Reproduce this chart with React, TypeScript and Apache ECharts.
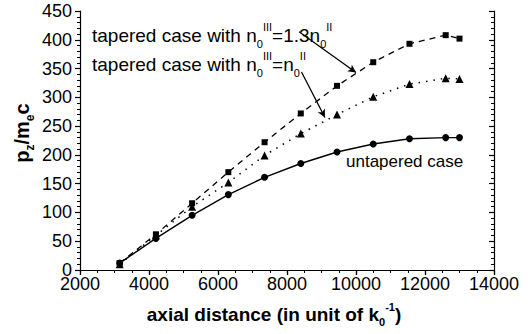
import React, { useEffect, useRef } from "react";
import * as echarts from "echarts";

// Data
const axialDistance = [3150, 4200, 5250, 6300, 7350, 8400, 9450, 10500, 11550, 12600, 13000];
const untapered = [12, 55, 95, 131, 161, 185, 205, 219, 228, 230, 230];
const taperedHigh = [12, 62, 116, 170, 222, 272, 320, 361, 393, 408, 402];
const taperedEqual = [10, 60, 110, 152, 199, 237, 270, 301, 323, 333, 332];

const xMin = 2000;
const xMax = 14000;
const xInterval = 2000;
const yMin = 0;
const yMax = 450;
const yInterval = 50;

const FONT = "Liberation Sans, Arial, sans-serif";

function pairs(xs: number[], ys: number[]) {
  return xs.map((x, i) => [x, ys[i]]);
}

export default function App() {
  const ref = useRef<HTMLDivElement>(null);

  useEffect(() => {
    if (!ref.current) return;
    const chart = echarts.init(ref.current, undefined, { renderer: "svg" });

    const axisLine = { show: true, lineStyle: { color: "#000", width: 1.2 } };

    const subSup = (size: number, bold: boolean, lh: number) => ({
      m: { fontSize: size, fontFamily: FONT, fontWeight: bold ? "bold" : "normal", color: "#000", lineHeight: lh, verticalAlign: "middle" },
      sub: { fontSize: Math.round(size * 0.58), fontFamily: FONT, fontWeight: bold ? "bold" : "normal", color: "#000", lineHeight: 12, verticalAlign: "bottom" },
      sup: { fontSize: Math.round(size * 0.58), fontFamily: FONT, fontWeight: bold ? "bold" : "normal", color: "#000", lineHeight: 12, verticalAlign: "top" },
    });

    const plain = (v: number) => String(v);

    const option: any = {
      animation: false,
      backgroundColor: "#fff",
      grid: { left: 80, right: 37, top: 11, bottom: 64, containLabel: false },
      xAxis: [
        {
          type: "value",
          position: "bottom",
          min: xMin,
          max: xMax,
          interval: xInterval,
          axisLine,
          axisTick: { show: true, inside: false, length: 5, lineStyle: { color: "#000", width: 1.2 } },
          minorTick: { show: true, splitNumber: 4, length: 3, lineStyle: { color: "#000", width: 1 } },
          splitLine: { show: false },
          minorSplitLine: { show: false },
          axisLabel: { show: true, color: "#000", fontSize: 18, lineHeight: 16, fontFamily: FONT, margin: 6, formatter: plain },
        },
        {
          type: "value",
          position: "top",
          min: xMin,
          max: xMax,
          interval: xInterval,
          axisLine,
          axisTick: { show: true, inside: true, length: 5, lineStyle: { color: "#000", width: 1.2 } },
          minorTick: { show: true, splitNumber: 4, length: 3, lineStyle: { color: "#000", width: 1 } },
          splitLine: { show: false },
          axisLabel: { show: false },
        },
      ],
      yAxis: [
        {
          type: "value",
          position: "left",
          min: yMin,
          max: yMax,
          interval: yInterval,
          axisLine,
          axisTick: { show: true, inside: false, length: 5, lineStyle: { color: "#000", width: 1.2 } },
          minorTick: { show: true, splitNumber: 5, length: 3, lineStyle: { color: "#000", width: 1 } },
          splitLine: { show: false },
          axisLabel: { show: true, color: "#000", fontSize: 18, lineHeight: 14, fontFamily: FONT, margin: 8, formatter: plain },
        },
        {
          type: "value",
          position: "right",
          min: yMin,
          max: yMax,
          interval: yInterval,
          axisLine,
          axisTick: { show: true, inside: true, length: 5, lineStyle: { color: "#000", width: 1.2 } },
          minorTick: { show: true, splitNumber: 5, length: 3, lineStyle: { color: "#000", width: 1 } },
          splitLine: { show: false },
          axisLabel: { show: false },
        },
      ],
      series: [
        {
          name: "untapered case",
          type: "line",
          xAxisIndex: 0,
          yAxisIndex: 0,
          data: pairs(axialDistance, untapered),
          symbol: "circle",
          symbolSize: 7,
          itemStyle: { color: "#000" },
          lineStyle: { color: "#000", width: 1.4, type: "solid" },
          z: 3,
        },
        {
          name: "tapered 1.3",
          type: "line",
          xAxisIndex: 0,
          yAxisIndex: 0,
          data: pairs(axialDistance, taperedHigh),
          symbol: "rect",
          symbolSize: 6,
          itemStyle: { color: "#000" },
          lineStyle: { color: "#000", width: 1.3, type: [6, 5] },
          z: 3,
          markLine: {
            silent: true,
            symbol: ["none", "arrow"],
            symbolSize: [6, 8],
            label: { show: false },
            lineStyle: { color: "#000", width: 1.3, type: "solid" },
            data: [
              [{ coord: [8350, 414] }, { coord: [10000, 343] }],
              [{ coord: [8420, 344] }, { coord: [9100, 265] }],
            ],
          },
        },
        {
          name: "tapered equal",
          type: "line",
          xAxisIndex: 0,
          yAxisIndex: 0,
          data: pairs(axialDistance, taperedEqual),
          symbol: "triangle",
          symbolSize: 8,
          itemStyle: { color: "#000" },
          lineStyle: { color: "#000", width: 1.5, type: [1.5, 6] },
          z: 3,
        },
      ],
      graphic: [
        {
          type: "text",
          left: 92,
          top: 21,
          style: {
            text: "{m|tapered case with n}{sub|0}{sup|III}{m|=1.3n}{sub|0}{sup|II}",
            rich: subSup(19, false, 28),
          },
        },
        {
          type: "text",
          left: 92,
          top: 50,
          style: {
            text: "{m|tapered case with n}{sub|0}{sup|III}{m|=n}{sub|0}{sup|II}",
            rich: subSup(19, false, 28),
          },
        },
        {
          type: "text",
          left: 346,
          top: 153,
          style: {
            text: "untapered case",
            fontSize: 17,
            fontFamily: FONT,
            fill: "#000",
          },
        },
        {
          type: "text",
          x: 274,
          y: 314,
          style: {
            x: 0,
            y: 0,
            align: "center",
            verticalAlign: "middle",
            text: "{m|axial distance (in unit of k}{sub|0}{sup|-1}{m|)}",
            rich: subSup(19, true, 26),
          },
        },
        {
          type: "text",
          x: 22,
          y: 133,
          rotation: Math.PI / 2,
          style: {
            x: 0,
            y: 0,
            align: "center",
            verticalAlign: "middle",
            text: "{m|p}{sub|z}{m|/m}{sub|e}{m|c}",
            rich: subSup(20, true, 28),
          },
        },
      ],
    };

    chart.setOption(option);
    return () => chart.dispose();
  }, []);

  return <div ref={ref} style={{ width: 531, height: 334, position: "absolute", left: 0, top: 0 }} />;
}
